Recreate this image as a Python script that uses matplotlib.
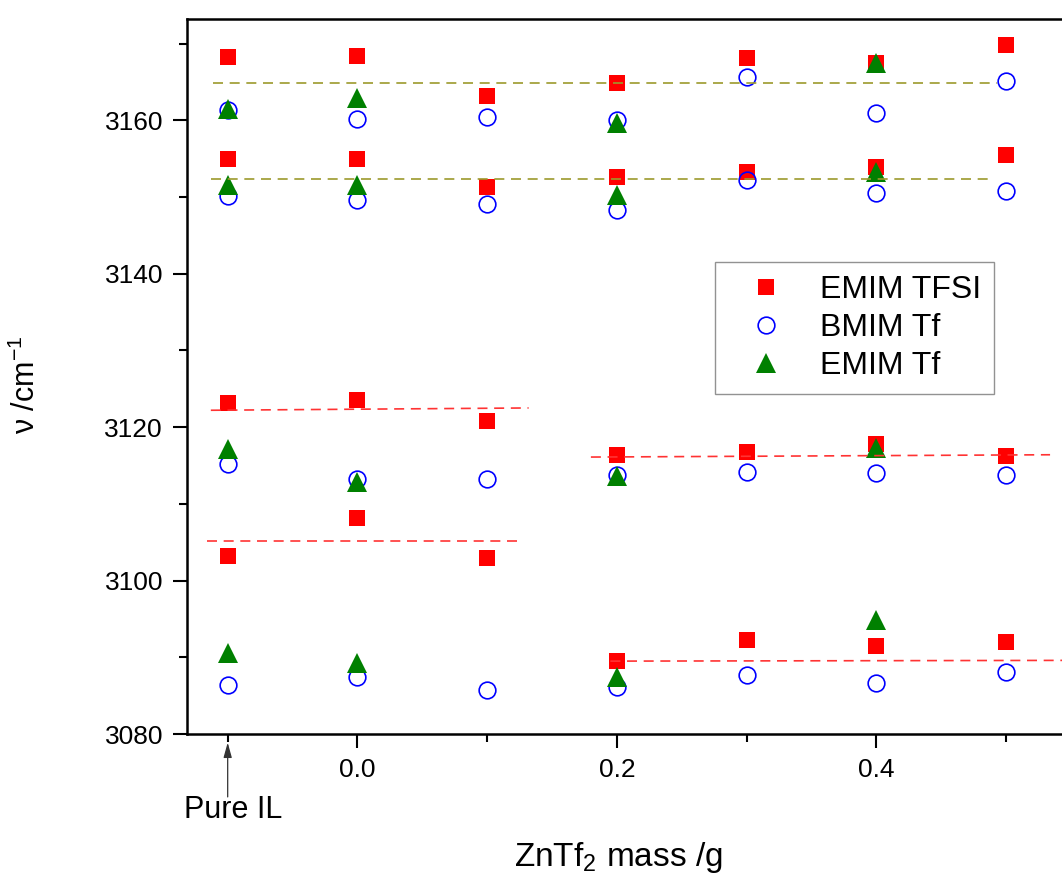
import matplotlib
matplotlib.use('Agg')
import matplotlib.pyplot as plt
import matplotlib.transforms as mtransforms

plt.rcParams['font.family'] = ['Liberation Sans', 'DejaVu Sans']
plt.rcParams['mathtext.fontset'] = 'custom'
plt.rcParams['mathtext.rm'] = 'Liberation Sans'
plt.rcParams['mathtext.it'] = 'Liberation Sans:italic'

# ZnTf2 mass (g); -0.1 stands for the pure ionic liquid
x_mass = [-0.1, 0.0, 0.1, 0.2, 0.3, 0.4, 0.5]
x_emim_tf = [-0.1, 0.0, 0.2, 0.4]

# EMIM TFSI bands
tfsi_a = [3168.2, 3168.4, 3163.1, 3164.8, 3168.1, 3167.5, 3169.8]
tfsi_b = [3155.0, 3154.9, 3151.3, 3152.6, 3153.2, 3153.9, 3155.5]
tfsi_c = [3123.2, 3123.6, 3120.8, 3116.4, 3116.8, 3117.8, 3116.3]
tfsi_d = [3103.2, 3108.2, 3103.0, 3089.5, 3092.3, 3091.5, 3092.0]

# BMIM Tf bands
bmim_a = [3161.3, 3160.2, 3160.4, 3160.1, 3165.6, 3160.9, 3165.1]
bmim_b = [3150.1, 3149.6, 3149.1, 3148.3, 3152.2, 3150.5, 3150.8]
bmim_c = [3115.2, 3113.2, 3113.2, 3113.8, 3114.2, 3114.0, 3113.8]
bmim_d = [3086.4, 3087.4, 3085.7, 3086.1, 3087.7, 3086.7, 3088.1]

# EMIM Tf bands
emimtf_a = [3161.5, 3162.9, 3159.7, 3167.5]
emimtf_b = [3151.6, 3151.6, 3150.3, 3153.2]
emimtf_c = [3117.2, 3112.9, 3113.6, 3117.3]
emimtf_d = [3090.6, 3089.3, 3087.4, 3094.8]

# dashed guide lines
guide_x = [(-0.111, 0.493), (-0.113, 0.490), (-0.113, 0.132),
           (-0.116, 0.126), (0.180, 0.534), (0.195, 0.56)]
guide_y = [(3164.8, 3164.8), (3152.3, 3152.3), (3122.2, 3122.5),
           (3105.2, 3105.2), (3116.1, 3116.4), (3089.5, 3089.6)]
guide_c = ['#9c9a2c', '#9c9a2c', '#ff3333', '#ff3333', '#ff3333', '#ff3333']

fig = plt.figure(figsize=(10.62, 8.76), dpi=100)
ax = fig.add_axes([0.1758, 0.1621, 0.8242, 0.8162])

sq = dict(marker='s', ls='none', color='#ff0000', ms=11, mew=0)
ci = dict(marker='o', ls='none', mfc='none', mec='#0000ff', ms=12, mew=1.2)
tr = dict(marker='^', ls='none', color='#008000', ms=14.5, mew=0)

first = True
for yv in [tfsi_a, tfsi_b, tfsi_c, tfsi_d]:
    ax.plot(x_mass, yv, label='EMIM TFSI' if first else None, zorder=3, **sq)
    first = False
first = True
for yv in [bmim_a, bmim_b, bmim_c, bmim_d]:
    ax.plot(x_mass, yv, label='BMIM Tf' if first else None, zorder=4, **ci)
    first = False
first = True
for yv in [emimtf_a, emimtf_b, emimtf_c, emimtf_d]:
    ax.plot(x_emim_tf, yv, label='EMIM Tf' if first else None, zorder=5, **tr)
    first = False

for gx, gy, gc in zip(guide_x, guide_y, guide_c):
    ax.plot(gx, gy, color=gc, lw=1.2, dashes=(6, 4), zorder=6)

ax.set_xlim(-0.1316, 0.5432)
ax.set_ylim(3080, 3173.2)

ax.set_xticks([0.0, 0.2, 0.4])
ax.set_xticklabels(['0.0', '0.2', '0.4'])
ax.set_xticks([-0.1, 0.1, 0.3, 0.5], minor=True)
ax.set_yticks([3080, 3100, 3120, 3140, 3160])
ax.set_yticks([3090, 3110, 3130, 3150, 3170], minor=True)

ax.tick_params(which='major', direction='out', length=10, width=1.5,
               labelsize=19, pad=7)
ax.tick_params(which='minor', direction='out', length=5.5, width=1.5)

for s in ['left', 'bottom', 'top']:
    ax.spines[s].set_linewidth(1.8)
ax.spines['right'].set_visible(False)

ax.set_xlabel('ZnTf$_2$ mass /g', fontsize=24)
ax.xaxis.set_label_coords(0.493, -0.148)
ax.set_ylabel('\u03bd /cm$^{-1}$', fontsize=22)
ax.yaxis.set_label_coords(-0.165, 0.488)

# "Pure IL" marker below the axis
trans = mtransforms.blended_transform_factory(ax.transData, ax.transAxes)
ax.annotate('', xy=(-0.1, -0.012), xycoords=trans,
            xytext=(-0.1, -0.088), textcoords=trans,
            arrowprops=dict(arrowstyle='-|>,head_length=0.9,head_width=0.25',
                            color='#333333', lw=0.9, shrinkA=0, shrinkB=0))
ax.text(-0.096, -0.086, 'Pure IL', transform=trans, fontsize=22,
        ha='center', va='top')

leg = ax.legend(loc='upper left', bbox_to_anchor=(0.6036, 0.660),
                borderaxespad=0, fontsize=23, frameon=True, fancybox=False,
                numpoints=1, handlelength=2.4, handletextpad=0.5,
                labelspacing=0.25, borderpad=0.4)
leg.get_frame().set_edgecolor('#777777')
leg.get_frame().set_linewidth(1.0)

fig.savefig('out.png', dpi=100)
